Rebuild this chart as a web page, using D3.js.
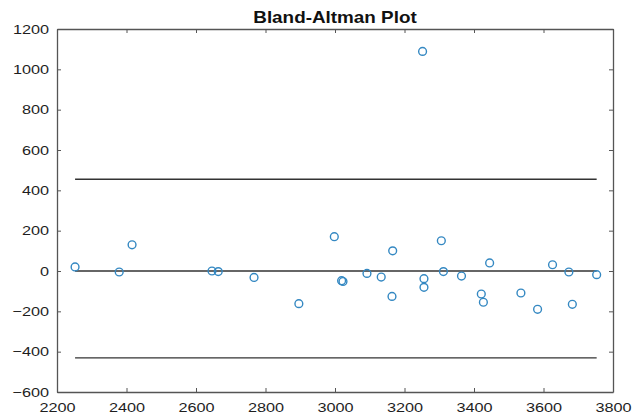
<!DOCTYPE html>
<html>
<head>
<meta charset="utf-8">
<script src="https://cdn.jsdelivr.net/npm/d3@7"></script>
<style>
  body { margin: 0; background: #fff; }
  svg { display: block; }
</style>
</head>
<body>
<div id="chart"></div>
<script>
// average of the two methods (x) and their difference (y)
const meanVals = [2252, 2379, 2416, 2646, 2664, 2767, 2896, 2998, 3019, 3023, 3092, 3133,
  3166, 3164, 3252, 3256, 3256, 3306, 3312, 3364, 3421, 3427, 3445, 3535, 3583, 3626,
  3673, 3683, 3753];
const diffVals = [20, -5, 130, 0, -3, -32, -162, 170, -48, -52, -12, -30,
  100, -126, 1089, -38, -81, 150, -3, -25, -114, -155, 40, -109, -190, 31,
  -5, -165, -18];

const upperLimit = 455;
const meanDiff = 0;
const lowerLimit = -431;

const xTicks = [2200, 2400, 2600, 2800, 3000, 3200, 3400, 3600, 3800];
const yTicks = [-600, -400, -200, 0, 200, 400, 600, 800, 1000, 1200];

const margin = {top: 29, right: 20, bottom: 28, left: 57},
  width = 633 - margin.left - margin.right,
  height = 420 - margin.top - margin.bottom;

const svg = d3.select('#chart').append('svg')
  .attr('width', 633)
  .attr('height', 420)
  .style('font-family', '"Liberation Sans", Arial, sans-serif');

const g = svg.append('g')
  .attr('transform', 'translate(' + margin.left + ',' + margin.top + ')');

const x = d3.scaleLinear().domain([2200, 3800]).range([0, width]);
const y = d3.scaleLinear().domain([-600, 1200]).range([height, 0]);

const axisColor = '#555';
const stretch = 1.25;

function styleAxis(sel) {
  sel.select('.domain').attr('stroke', axisColor).attr('stroke-width', 1.3);
  sel.selectAll('.tick line').attr('stroke', axisColor).attr('stroke-width', 1);
  sel.selectAll('.tick text').attr('fill', '#1e1e1e').style('font-size', '13px');
}

// bottom axis with labels
g.append('g')
  .attr('transform', 'translate(0,' + height + ')')
  .call(d3.axisBottom(x).tickValues(xTicks).tickFormat(d3.format('d'))
    .tickSizeInner(-4).tickSizeOuter(0).tickPadding(11))
  .call(styleAxis)
  .selectAll('.tick text')
  .attr('transform', 'scale(' + stretch + ',1)');

// left axis with labels
g.append('g')
  .call(d3.axisLeft(y).tickValues(yTicks).tickFormat(d3.format('d'))
    .tickSizeInner(-4).tickSizeOuter(0).tickPadding(8))
  .call(styleAxis)
  .selectAll('.tick text')
  .attr('x', -8 / stretch)
  .attr('transform', 'scale(' + stretch + ',1)');

// box: top and right axes, ticks only
g.append('g')
  .call(d3.axisTop(x).tickValues(xTicks).tickFormat('')
    .tickSizeInner(-4).tickSizeOuter(0))
  .call(styleAxis);

g.append('g')
  .attr('transform', 'translate(' + width + ',0)')
  .call(d3.axisRight(y).tickValues(yTicks).tickFormat('')
    .tickSizeInner(-4).tickSizeOuter(0))
  .call(styleAxis);

// limits of agreement and mean difference
const xExt = d3.extent(meanVals);
g.append('g')
  .selectAll('line')
  .data([upperLimit, meanDiff, lowerLimit])
  .enter()
  .append('line')
  .attr('x1', x(xExt[0]))
  .attr('x2', x(xExt[1]))
  .attr('y1', d => y(d))
  .attr('y2', d => y(d))
  .attr('stroke', '#333')
  .attr('stroke-width', 1.4);

// points
g.append('g')
  .selectAll('circle')
  .data(meanVals.map((m, i) => ({m: m, d: diffVals[i]})))
  .enter()
  .append('circle')
  .attr('cx', p => x(p.m))
  .attr('cy', p => y(p.d))
  .attr('r', 3.9)
  .attr('fill', 'none')
  .attr('stroke', '#3488c2')
  .attr('stroke-width', 1.4);

// title
svg.append('g')
  .attr('transform', 'translate(' + (margin.left + width / 2) + ',23)')
  .append('text')
  .attr('text-anchor', 'middle')
  .attr('transform', 'scale(1.18,1)')
  .style('font-size', '16px')
  .style('font-weight', 'bold')
  .attr('fill', '#111')
  .text('Bland-Altman Plot');
</script>
</body>
</html>
